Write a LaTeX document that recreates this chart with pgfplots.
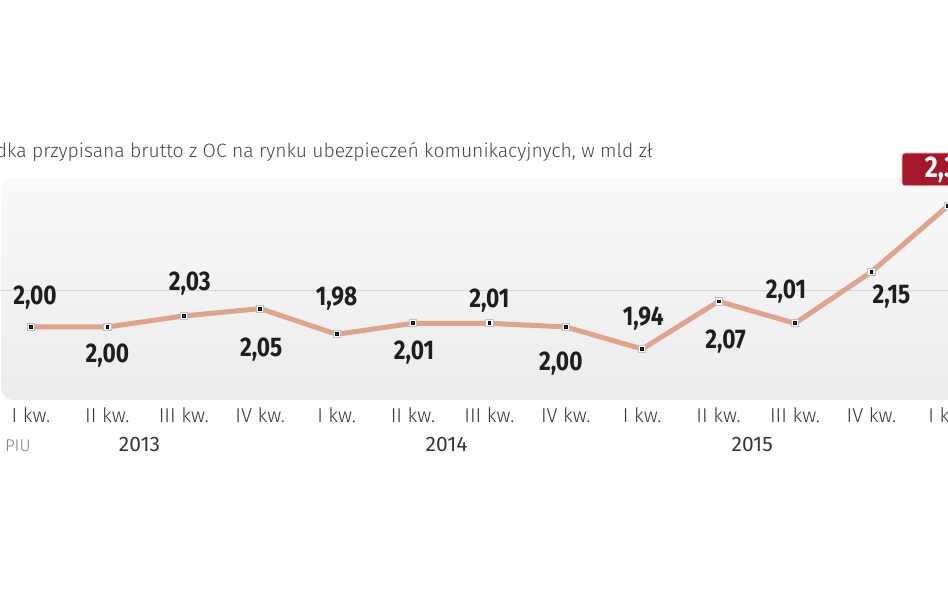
\documentclass[border=0pt]{standalone}
\usepackage{pgfplots}
\usepackage{pgfplotstable}
\pgfplotsset{compat=1.18}
\usepackage{fontspec}
\setmainfont{Fira Sans}
\newfontfamily\labfont[FakeStretch=0.84]{Fira Sans}
\newfontfamily\lightfont{Fira Sans Light}
\definecolor{linec}{RGB}{222,164,142}
\definecolor{boxred}{RGB}{163,24,42}
\definecolor{txt}{RGB}{30,30,30}
\definecolor{tickc}{RGB}{55,55,55}
\definecolor{titlec}{RGB}{70,70,70}
\definecolor{gridc}{RGB}{215,215,215}
\definecolor{panelTop}{RGB}{249,249,249}
\definecolor{panelBot}{RGB}{236,236,238}

\pgfplotstableread{
i v lab dx dy
0 2.00 2,00 2 14.5
1 2.00 2,00 0 -14.5
2 2.03 2,03 3 16
3 2.05 2,05 0.5 -20.5
4 1.98 1,98 0 18
5 2.01 2,01 0.5 -14.5
6 2.01 2,01 0 11.5
7 2.00 2,00 -2.5 -18.5
8 1.94 1,94 0.5 15
9 2.07 2,07 3.5 -20
10 2.01 2,01 -4.5 16
11 2.15 2,15 10 -12.5
12 2.33 2,33 0 18.25
}\datatable

\begin{document}
\begin{tikzpicture}[x=0.5pt,y=0.5pt]
\useasboundingbox (0,0) rectangle (948,593);
\clip (0,0) rectangle (948,593);
\shade[top color=panelTop, bottom color=panelBot, rounded corners=6pt] (1,193) rectangle (1100,415);
\node[anchor=base east, font=\lightfont\fontsize{9.66}{11}\selectfont, text=titlec, inner sep=0pt] at (653,435) {Składka przypisana brutto z OC na rynku ubezpieczeń komunikacyjnych, w mld zł};
\node[anchor=base east, font=\lightfont\fontsize{8.5}{10}\selectfont, text=gray, inner sep=0pt] at (31,141) {Źródło: PIU};
\begin{axis}[
  at={(0pt,96.35pt)}, anchor=south west,
  scale only axis, width=474pt, height=110pt,
  xmin=-0.4058, xmax=12.0026, ymin=1.8, ymax=2.4,
  clip=false,
  axis line style={draw=none}, tick style={draw=none}, major tick length=0pt,
  ytick={2.1}, yticklabels={}, ymajorgrids,
  grid style={color=gridc, line width=0.6pt},
  xtick={0,...,12},
  xticklabels={I kw., II kw., III kw., IV kw., I kw., II kw., III kw., IV kw., I kw., II kw., III kw., IV kw., I kw.},
  xticklabel style={font=\lightfont\fontsize{10}{12}\selectfont, text=tickc, anchor=base, yshift=-11.35pt},
  extra x ticks={1.42,5.44,9.44,12.04},
  extra x tick labels={2013,2014,2015,2016},
  extra x tick style={xticklabel style={yshift=-14.5pt, font=\fontsize{10.5}{12}\selectfont}},
]
\addplot[color=linec, line width=2.5pt, mark=square*, mark size=1.8pt,
  mark options={fill=white, draw=gray!50, line width=0.4pt}] table[x=i, y=v] {\datatable};
\addplot[draw=none, mark=square*, mark size=0.7pt, mark options={fill=black!80, draw=none}] table[x=i, y=v] {\datatable};
\addplot[draw=none, mark=none, point meta=explicit symbolic,
  nodes near coords,
  visualization depends on={\thisrow{dx} \as \labdx},
  visualization depends on={\thisrow{dy} \as \labdy},
  every node near coord/.style={anchor=center, xshift=\labdx pt, yshift=\labdy pt,
    font=\labfont\bfseries\fontsize{13.5}{13.5}\selectfont, text=txt},
  skip coords between index={12}{13}] table[x=i, y=v, meta=lab] {\datatable};
\addplot[draw=none, mark=none, point meta=explicit symbolic,
  nodes near coords,
  every node near coord/.style={anchor=center, yshift=18.25pt, fill=boxred, text=white,
    draw=white!85!boxred, line width=0.5pt, rounded corners=1.5pt,
    minimum width=46pt, minimum height=16.5pt, inner sep=1pt,
    font=\labfont\bfseries\fontsize{15}{15}\selectfont},
  skip coords between index={0}{12}] table[x=i, y=v, meta=lab] {\datatable};
\end{axis}
\end{tikzpicture}
\end{document}
